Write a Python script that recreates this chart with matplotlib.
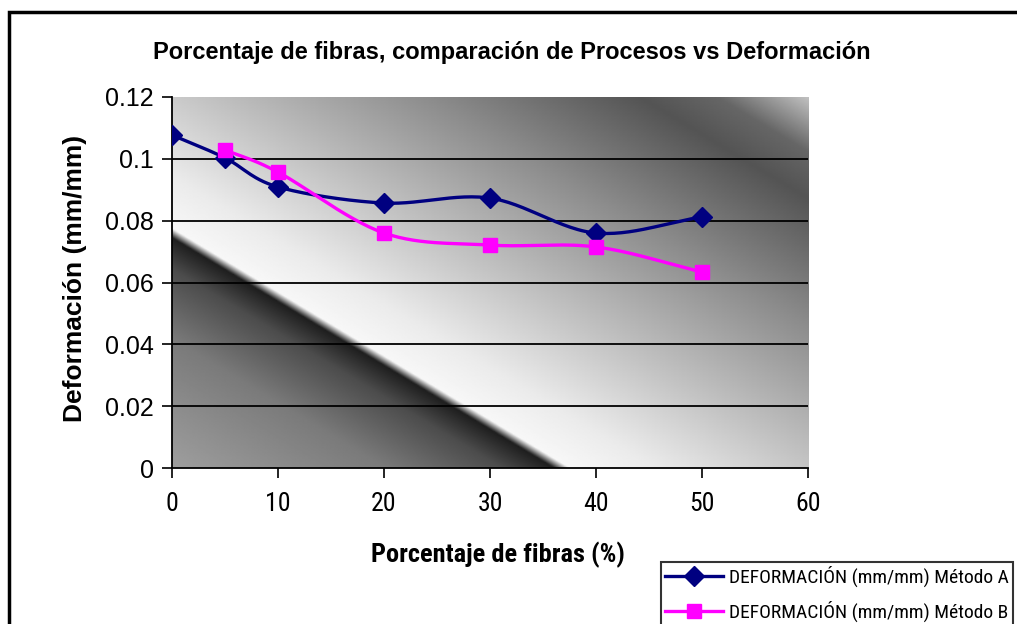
import numpy as np
import matplotlib
matplotlib.use('Agg')
import matplotlib.pyplot as plt
from matplotlib.lines import Line2D
from matplotlib.patches import Rectangle

# data
fibras_a = [0, 5, 10, 20, 30, 40, 50]
deform_a = [0.1077, 0.1003, 0.0909, 0.0857, 0.0873, 0.0760, 0.0812]
fibras_b = [5, 10, 20, 30, 40, 50]
deform_b = [0.1029, 0.0957, 0.0760, 0.0721, 0.0715, 0.0634]
label_a = 'DEFORMACIÓN (mm/mm) Método A'
label_b = 'DEFORMACIÓN (mm/mm) Método B'
x_ticks = [0, 10, 20, 30, 40, 50, 60]
y_ticks = [0, 0.02, 0.04, 0.06, 0.08, 0.1, 0.12]
y_ticklabels = ['0', '0.02', '0.04', '0.06', '0.08', '0.1', '0.12']

narrow = ['Roboto Condensed', 'Liberation Sans', 'DejaVu Sans']
arial = ['Liberation Sans', 'DejaVu Sans']


def smooth(x, y, n=30):
    # catmull-rom curve through the points, like excel's smoothed line
    x = np.asarray(x, float)
    y = np.asarray(y, float)
    px = np.concatenate([[2*x[0]-x[1]], x, [2*x[-1]-x[-2]]])
    py = np.concatenate([[2*y[0]-y[1]], y, [2*y[-1]-y[-2]]])
    xs, ys = [], []
    t = np.linspace(0, 1, n)
    for i in range(1, len(px)-2):
        for p, out in ((px, xs), (py, ys)):
            p0, p1, p2, p3 = p[i-1], p[i], p[i+1], p[i+2]
            out.extend(0.5*((2*p1) + (-p0+p2)*t + (2*p0-5*p1+4*p2-p3)*t**2
                            + (-p0+3*p1-3*p2+p3)*t**3))
    return np.array(xs), np.array(ys)


fig = plt.figure(figsize=(10.17, 6.24), dpi=100)
ax = fig.add_axes([172/1017, 1-468/624, 636/1017, 371/624])

# diagonal grey gradient in the plot area
W, H = 636, 371
gx, gy = np.meshgrid(np.linspace(0, 1, 400), np.linspace(0, 1, 300))
d = 0.517*gx*W + 0.856*gy*H
stops_d = [0, 110, 170, 197, 205, 250, 330, 450, 560, 600, 646]
stops_v = [0.62, 0.48, 0.30, 0.12, 0.97, 0.92, 0.77, 0.55, 0.33, 0.40, 0.75]
shade = np.interp(d, stops_d, stops_v)
ax.imshow(shade, cmap='gray', vmin=0, vmax=1, origin='lower', extent=[0, 1, 0, 1],
          transform=ax.transAxes, aspect='auto', zorder=0, interpolation='bilinear')

ax.set_xlim(0, 60)
ax.set_ylim(0, 0.12)
for yv in y_ticks[1:-1]:
    ax.axhline(yv, color='black', lw=1.3, zorder=1)

xa, ya = smooth(fibras_a, deform_a)
xb, yb = smooth(fibras_b, deform_b)
ax.plot(xa, ya, color='#000080', lw=2.4, zorder=3)
ax.plot(fibras_a, deform_a, ls='none', marker='D', ms=10, color='#000080', zorder=4)
ax.plot(xb, yb, color='#FF00FF', lw=2.4, zorder=5)
ax.plot(fibras_b, deform_b, ls='none', marker='s', ms=10.5, color='#FF00FF', zorder=6)

ax.set_xticks(x_ticks)
ax.set_yticks(y_ticks)
ax.set_yticklabels(y_ticklabels)
ax.tick_params(axis='both', direction='out', length=7, width=1.2, color='black')
ax.tick_params(axis='y', pad=6, labelsize=18)
ax.tick_params(axis='x', pad=10, labelsize=18.5)
for lab in ax.get_xticklabels():
    lab.set_family(narrow)
for lab in ax.get_yticklabels():
    lab.set_family(arial)
ax.spines['top'].set_visible(False)
ax.spines['right'].set_visible(False)
ax.spines['left'].set_linewidth(1.3)
ax.spines['bottom'].set_linewidth(1.3)

fig.text(512/1017, 1-52/624, 'Porcentaje de fibras, comparación de Procesos vs Deformación',
         ha='center', va='center', fontsize=17, fontweight='bold', family=arial)
fig.text(498/1017, 1-555/624, 'Porcentaje de fibras (%)', ha='center', va='center',
         fontsize=19, fontweight='bold', family=narrow)
fig.text(75/1017, 1-278/624, 'Deformación (mm/mm)', ha='center', va='center',
         rotation=90, fontsize=19, fontweight='bold', family=arial)

# outer chart border
fig.patches.append(Rectangle((9/1017, -0.05), 1.1, 1-12/624+0.05, transform=fig.transFigure,
                             fill=False, edgecolor='black', lw=2.5, zorder=10))

handles = [Line2D([], [], color='#000080', lw=2.4, marker='D', ms=10),
           Line2D([], [], color='#FF00FF', lw=2.4, marker='s', ms=10.5)]
leg = fig.legend(handles, [label_a, label_b], loc='upper left',
                 bbox_to_anchor=(661/1017, 1-562/624), frameon=True, fancybox=False,
                 prop={'family': narrow, 'size': 14}, handlelength=3.0,
                 handletextpad=0.3, labelspacing=0.7, borderaxespad=0, borderpad=0.2)
leg.get_frame().set_edgecolor('black')
leg.get_frame().set_linewidth(1.5)

fig.savefig('out.png', dpi=100)
